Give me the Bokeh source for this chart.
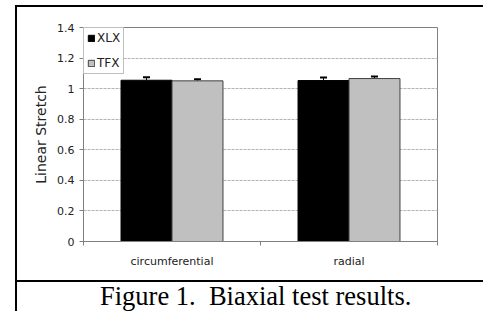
from bokeh.plotting import figure
from bokeh.layouts import row, column
from bokeh.models import (ColumnDataSource, Range1d, Whisker, Legend, LegendItem,
                          FixedTicker, TeeHead, Spacer, Div)
from bokeh.transform import dodge
from bokeh.embed import file_html
from bokeh.resources import INLINE

# ---- data ----
categories = ["circumferential", "radial"]
series_names = ["XLX", "TFX"]
xlx = [1.055, 1.053]
tfx = [1.051, 1.066]
xlx_err = [0.02, 0.02]
tfx_err = [0.01, 0.014]
y_ticks = [0, 0.2, 0.4, 0.6, 0.8, 1.0, 1.2, 1.4]
y_tick_labels = ["0", "0.2", "0.4", "0.6", "0.8", "1", "1.2", "1.4"]
caption = "Figure 1.  Biaxial test results."

centers = [i + 0.5 for i in range(len(categories))]
bounds = [float(i) for i in range(len(categories) + 1)]

src = ColumnDataSource(dict(
    x=centers,
    xlx=xlx, tfx=tfx,
    xlx_up=[v + e for v, e in zip(xlx, xlx_err)],
    tfx_up=[v + e for v, e in zip(tfx, tfx_err)],
))

W = 466
p = figure(width=W, height=273, output_backend="svg", toolbar_location=None,
           x_range=Range1d(0, len(categories)), y_range=Range1d(0, 1.4),
           min_border_left=66, min_border_right=46, min_border_top=20, min_border_bottom=39)
p.background_fill_color = "white"
p.border_fill_color = "white"
p.outline_line_color = "#808080"
p.outline_line_width = 1

bw = 0.288
r1 = p.vbar(x=dodge("x", -bw / 2), top="xlx", width=bw, source=src,
            fill_color="black", line_color="black", line_width=1)
r2 = p.vbar(x=dodge("x", bw / 2), top="tfx", width=bw, source=src,
            fill_color="#c0c0c0", line_color="#404040", line_width=1)

for col, up, off in (("xlx", "xlx_up", -bw / 2), ("tfx", "tfx_up", bw / 2)):
    w = Whisker(source=src, base=dodge("x", off), lower=col, upper=up,
                dimension="height", line_color="black", line_width=1,
                upper_head=TeeHead(size=7, line_color="black", line_width=2),
                lower_head=None)
    p.add_layout(w)

# axes
p.xaxis.ticker = FixedTicker(ticks=centers, minor_ticks=bounds)
p.xaxis.major_label_overrides = {c: lab for c, lab in zip(centers, categories)}
p.xaxis.major_tick_line_color = None
p.xaxis.minor_tick_line_color = "#808080"
p.xaxis.minor_tick_out = 4
p.xaxis.minor_tick_in = 0
p.xaxis.axis_line_color = "#808080"
p.xaxis.major_label_text_font = "DejaVu Sans"
p.xaxis.major_label_text_font_size = "11px"
p.xaxis.major_label_text_color = "#222222"
p.xaxis.major_label_standoff = 7

p.yaxis.ticker = FixedTicker(ticks=y_ticks, minor_ticks=[])
p.yaxis.major_label_overrides = {t: lab for t, lab in zip(y_ticks, y_tick_labels)}
p.yaxis.axis_line_color = "#808080"
p.yaxis.major_tick_line_color = "#808080"
p.yaxis.major_tick_out = 4
p.yaxis.major_tick_in = 0
p.yaxis.major_label_standoff = 5
p.yaxis.major_label_text_font = "DejaVu Sans"
p.yaxis.major_label_text_font_size = "11px"
p.yaxis.major_label_text_color = "#222222"
p.yaxis.axis_label = "Linear Stretch"
p.yaxis.axis_label_text_font = "DejaVu Sans"
p.yaxis.axis_label_text_font_size = "14px"
p.yaxis.axis_label_text_font_style = "normal"
p.yaxis.axis_label_text_color = "#222222"
p.yaxis.axis_label_standoff = 5

p.xgrid.visible = False
p.ygrid.ticker = FixedTicker(ticks=y_ticks)
p.ygrid.grid_line_color = "#b4b4b4"
p.ygrid.grid_line_dash = "3 1"
p.ygrid.grid_line_width = 1

legend = Legend(items=[LegendItem(label=series_names[0], renderers=[r1]),
                       LegendItem(label=series_names[1], renderers=[r2])],
                location="top_left", margin=0, padding=3, spacing=11,
                glyph_width=8, glyph_height=8, label_height=12, label_standoff=2,
                label_text_font="DejaVu Sans", label_text_font_size="12px",
                label_text_color="#222222",
                border_line_color="#808080", border_line_width=1,
                background_fill_color="white", background_fill_alpha=1)
p.add_layout(legend)

# caption panel
cap = Div(text=caption, width=W, height=29, margin=0,
          styles={"font-family": "'Liberation Serif', 'Times New Roman', serif",
                  "font-size": "26.5px", "line-height": "28px", "color": "black",
                  "text-align": "left", "text-indent": "83px",
                  "white-space": "pre", "overflow": "hidden"})

black = {"background-color": "black"}
layout = column(
    Spacer(width=W + 17, height=5, margin=0),
    row(
        Spacer(width=15, height=306, margin=0),
        Spacer(width=2, height=306, margin=0, styles=black),
        column(
            Spacer(width=W, height=2, margin=0, styles=black),
            p,
            Spacer(width=W, height=2, margin=0, styles=black),
            cap,
            spacing=0, margin=0,
        ),
        spacing=0, margin=0,
    ),
    spacing=0, margin=0,
)

open("out.html", "w").write(file_html(layout, INLINE))
